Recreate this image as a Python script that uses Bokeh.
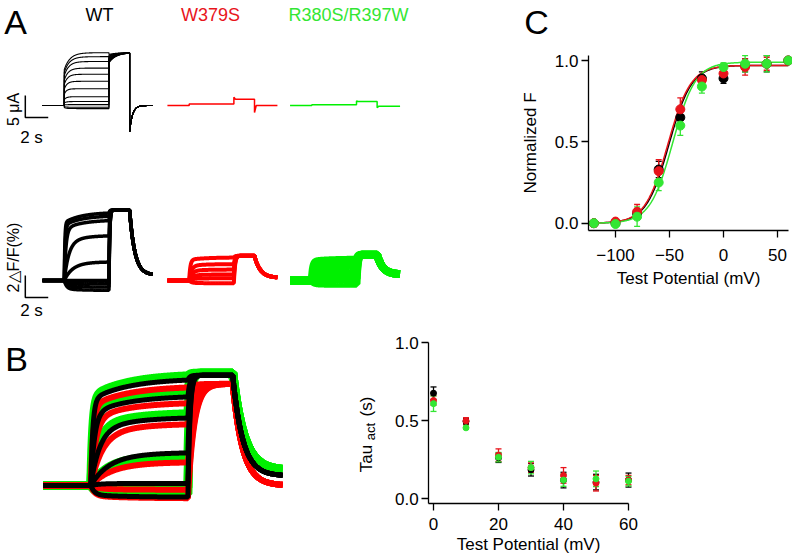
import numpy as np
from bokeh.plotting import figure
from bokeh.models import (Range1d, Label, FixedTicker, Whisker, ColumnDataSource,
                          TeeHead, PrintfTickFormatter, LinearAxis)
from bokeh.core.properties import value
from bokeh.embed import file_html
from bokeh.resources import INLINE

# ======================= DATA =======================
group_names = ["WT", "W379S", "R380S/R397W"]

# Panel C: normalized F-V relation
fv_volt = [-120, -100, -80, -60, -40, -20, 0, 20, 40, 60]
fv_wt = [0.0, 0.0, 0.06, 0.33, 0.65, 0.89, 0.89, 0.97, 0.98, 1.0]
fv_wt_err = [0.01, 0.01, 0.03, 0.05, 0.05, 0.04, 0.03, 0.04, 0.05, 0.0]
fv_w379s = [0.0, 0.01, 0.07, 0.32, 0.70, 0.88, 0.92, 0.96, 0.98, 1.0]
fv_w379s_err = [0.01, 0.01, 0.045, 0.07, 0.07, 0.03, 0.03, 0.05, 0.04, 0.0]
fv_r380s = [0.0, -0.005, 0.04, 0.25, 0.60, 0.84, 0.96, 0.98, 0.98, 1.0]
fv_r380s_err = [0.01, 0.01, 0.06, 0.05, 0.06, 0.04, 0.025, 0.05, 0.05, 0.0]
# Boltzmann fits: (V1/2 mV, slope mV, max)
fit_wt = (-50.5, 10.5, 0.97)
fit_w379s = (-51.5, 10.5, 0.97)
fit_r380s = (-47.0, 10.5, 0.99)

# Panel B (right): activation time constants (s)
tau_volt = [0, 10, 20, 30, 40, 50, 60]
tau_wt = [0.677, 0.496, 0.263, 0.186, 0.12, 0.107, 0.12]
tau_wt_err = [0.04, 0.02, 0.03, 0.04, 0.05, 0.05, 0.045]
tau_w379s = [0.63, 0.50, 0.28, 0.20, 0.15, 0.10, 0.12]
tau_w379s_err = [0.03, 0.02, 0.04, 0.03, 0.05, 0.05, 0.03]
tau_r380s = [0.61, 0.455, 0.267, 0.20, 0.12, 0.128, 0.113]
tau_r380s_err = [0.05, 0.01, 0.03, 0.04, 0.04, 0.05, 0.03]

# Recording protocol (s): end of holding, end of test pulse, end of tail pulse, end of sweep
protocol = [1.9, 5.8, 7.6, 9.6]

# Panel A, currents (uA): WT family (steady level, time constant, tail start)
cur_wt_level = [12.0, 11.1, 10.0, 8.5, 7.1, 5.5, 3.8, 2.0, 0.9, 0.2, -0.4, -0.7]
cur_wt_tau = [0.5, 0.45, 0.4, 0.35, 0.3, 0.25, 0.2, 0.2, 0.2, 0.2, 0.2, 0.2]
cur_wt_tail0 = [11.6, 11.4, 11.2, 11.0, 10.8, 10.6, 10.4, 10.2, 10.0, 9.9, 9.8, 9.7]
cur_wt_tail_end = 12.0
cur_wt_off = -6.0
# mutants (time s, current uA)
cur_mut_t = [0.0, 1.9, 1.9, 5.8, 5.8, 5.95, 7.6, 7.6, 7.75, 9.6]
cur_w379s = [0.0, 0.0, 0.35, 0.35, 1.9, 1.4, 1.4, -1.6, 0.0, 0.0]
cur_r380s = [0.0, 0.0, 0.15, 0.15, 1.0, 0.9, 0.9, -0.5, -0.15, -0.15]

# Panel A, fluorescence (dF/F %)
fl_wt_level = [6.2, 5.9, 5.5, 4.1, 1.7, 0.0, -0.3, -0.6, -0.9]
fl_wt_tau = [0.05, 0.08, 0.15, 0.4, 0.7, 0.3, 0.2, 0.2, 0.2]
fl_wt_tail, fl_wt_post = 6.4, 0.5
fl_w379s_level = [2.1, 1.5, 1.0, 0.55, 0.2, -0.25]
fl_w379s_tau = [0.1, 0.2, 0.25, 0.3, 0.3, 0.2]
fl_w379s_tail, fl_w379s_post = 2.25, 0.25
fl_r380s_level = [1.9, 1.45, 1.0, 0.55, 0.15, -0.3]
fl_r380s_tau = [0.1, 0.2, 0.25, 0.3, 0.3, 0.2]
fl_r380s_tail, fl_r380s_post = 2.35, 0.55

# Panel B (left), normalized fluorescence
nb_wt_level = [1.0, 0.84, 0.64, 0.31, 0.02, -0.11]
nb_wt_tau = [0.08, 0.15, 0.35, 0.7, 0.3, 0.15]
nb_wt_tail, nb_wt_post = 1.03, 0.09
nb_r380s_level = [1.04, 0.88, 0.68, 0.28, -0.02, -0.08]
nb_r380s_tau = [0.08, 0.15, 0.3, 0.65, 0.3, 0.15]
nb_r380s_tail, nb_r380s_post = 1.05, 0.14
nb_w379s_level = [0.93, 0.78, 0.58, 0.22, -0.04, -0.12]
nb_w379s_tau = [0.1, 0.2, 0.45, 0.8, 0.3, 0.15]
nb_w379s_tail, nb_w379s_post = 0.95, 0.0

# scale bars
sb_time, sb_cur, sb_fl = 2.0, 5.0, 2.0

# ======================= STYLE / LAYOUT =======================
W, H = 792, 555
FONT = "Liberation Sans"
BLACK = "#000000"
RED = "#e8141b"
GREEN = "#33e633"
RED_TR = "#ff0000"
GREEN_TR = "#00f000"

p = figure(width=W, height=H, output_backend="svg", toolbar_location=None,
           x_axis_type=None, y_axis_type=None, min_border=0,
           x_range=Range1d(0, W), y_range=Range1d(H, 0))
p.outline_line_color = None
p.background_fill_color = "white"
p.border_fill_color = "white"


def panel(name, ax, bx, ay, by, yonly=False):
    """Register data ranges of one panel (ax, ay: pixel position of 0; bx, by: pixels per unit)."""
    if not yonly:
        p.extra_x_ranges[name + "x"] = Range1d((0 - ax) / bx, (W - ax) / bx)
    p.extra_y_ranges[name + "y"] = Range1d((ay - H) / by, (ay - 0) / by)


def lab(xr, yr, x, y, text, size, color=BLACK, align="center", angle=0.0):
    p.add_layout(Label(x=x, y=y, x_range_name=xr, y_range_name=yr, text=text,
                       text_font=FONT, text_font_size=size, text_color=color,
                       text_align=align, text_baseline="middle", angle=angle))


def sweeps(levels, taus, a_fast, a_slow, slow_tau, tail_target, tail_tau,
           post_target, post_tau, offset=0.0, tail_start=None, post_start=None):
    h, te, tl, en = protocol
    xs, ys = [], []
    for i, (L, tau) in enumerate(zip(levels, taus)):
        t1 = np.linspace(0, te - h, 200)
        y1 = L * (1 - a_fast * np.exp(-t1 / tau) - a_slow * np.exp(-t1 / slow_tau))
        t2 = np.linspace(0, tl - te, 100)
        s2 = y1[-1] if tail_start is None else tail_start[i]
        y2 = tail_target + (s2 - tail_target) * np.exp(-t2 / tail_tau)
        t3 = np.linspace(0, en - tl, 100)
        s3 = y2[-1] if post_start is None else post_start
        y3 = post_target + (s3 - post_target) * np.exp(-t3 / post_tau)
        xs.append(np.concatenate([[0, h], h + t1, te + t2, tl + t3]) + offset)
        ys.append(np.concatenate([[0, 0], y1, y2, y3]))
    return xs, ys


# ---------------- Panel A ----------------
A_ax, A_bx, A_ay, A_by = 42.0, 11.46, 105.0, 4.4
panel("a", A_ax, A_bx, A_ay, A_by)           # time (s) / current (uA)
panel("af", 0, 1, 280.0, 11.0, yonly=True)   # fluorescence (%)
ax_ = lambda ix: (ix - A_ax) / A_bx
ay_ = lambda iy: (A_ay - iy) / A_by
off_w379s, off_r380s = 10.9, 21.6

xs, ys = sweeps(cur_wt_level, cur_wt_tau, 0.32, 0.0, 1.0, cur_wt_tail_end, 0.6,
                0.0, 0.25, 0.0, tail_start=cur_wt_tail0, post_start=cur_wt_off)
p.multi_line(xs, ys, line_color=BLACK, line_width=1.1, x_range_name="ax", y_range_name="ay")
p.line(np.array(cur_mut_t) + off_w379s, cur_w379s, line_color=RED_TR, line_width=1.5,
       x_range_name="ax", y_range_name="ay")
p.line(np.array(cur_mut_t) + off_r380s, cur_r380s, line_color=GREEN_TR, line_width=1.5,
       x_range_name="ax", y_range_name="ay")

xs, ys = sweeps(fl_wt_level, fl_wt_tau, 0.85, 0.15, 1.5, fl_wt_tail, 0.06, fl_wt_post, 0.45)
p.multi_line(xs, ys, line_color=BLACK, line_width=3.5, x_range_name="ax", y_range_name="afy")
xs, ys = sweeps(fl_w379s_level, fl_w379s_tau, 0.9, 0.1, 1.5, fl_w379s_tail, 0.1,
                fl_w379s_post, 0.5, off_w379s)
p.multi_line(xs, ys, line_color=RED_TR, line_width=4, x_range_name="ax", y_range_name="afy")
xs, ys = sweeps(fl_r380s_level, fl_r380s_tau, 0.9, 0.1, 1.5, fl_r380s_tail, 0.1,
                fl_r380s_post, 0.5, off_r380s)
p.multi_line(xs, ys, line_color=GREEN_TR, line_width=8, x_range_name="ax", y_range_name="afy")

# scale bars
t_sb, i_sb, f_sb = -1.5, -2.7, -1.55
p.line([t_sb, t_sb, t_sb + sb_time], [i_sb + sb_cur, i_sb, i_sb], line_color=BLACK,
       line_width=1.5, x_range_name="ax", y_range_name="ay")
p.line([t_sb, t_sb, t_sb + sb_time], [f_sb + sb_fl, f_sb, f_sb], line_color=BLACK,
       line_width=1.5, x_range_name="ax", y_range_name="afy")

lab("ax", "ay", ax_(15), ay_(21), "A", "34px")
lab("ax", "ay", ax_(99), ay_(14), group_names[0], "18px", BLACK)
lab("ax", "ay", ax_(210), ay_(14), group_names[1], "18px", RED)
lab("ax", "ay", ax_(348), ay_(14), group_names[2], "18px", GREEN)
lab("ax", "ay", ax_(13), ay_(109), "5 μA", "16px", angle=np.pi / 2)
lab("ax", "ay", ax_(31), ay_(137), "2 s", "17px")
lab("ax", "ay", ax_(13), ay_(257), "2△F/F(%)", "16px", angle=np.pi / 2)
lab("ax", "ay", ax_(31), ay_(310), "2 s", "17px")

# ---------------- Panel B (left) ----------------
B_ax, B_bx, B_ay, B_by = 43.0, 24.9, 485.0, 107.0
panel("b", B_ax, B_bx, B_ay, B_by)
xs, ys = sweeps(nb_r380s_level, nb_r380s_tau, 0.8, 0.2, 1.5, nb_r380s_tail, 0.08, nb_r380s_post, 0.45)
p.multi_line(xs, ys, line_color=GREEN_TR, line_width=9, x_range_name="bx", y_range_name="by")
xs, ys = sweeps(nb_w379s_level, nb_w379s_tau, 0.8, 0.2, 1.5, nb_w379s_tail, 0.25, nb_w379s_post, 0.4)
p.multi_line(xs, ys, line_color=RED_TR, line_width=6, x_range_name="bx", y_range_name="by")
xs, ys = sweeps(nb_wt_level, nb_wt_tau, 0.8, 0.2, 1.5, nb_wt_tail, 0.08, nb_wt_post, 0.4)
p.multi_line(xs, ys, line_color=BLACK, line_width=5, x_range_name="bx", y_range_name="by")
lab("bx", "by", (16 - B_ax) / B_bx, (B_ay - 358) / B_by, "B", "34px")


# ---------------- axes helpers ----------------
def style_axis(a, tick_std, lab_std):
    a.axis_line_width = 1.3
    a.major_tick_line_width = 1.3
    a.major_tick_out = 7
    a.major_tick_in = 0
    a.minor_tick_out = 0
    a.minor_tick_in = 0
    a.major_label_text_font = FONT
    a.major_label_text_font_size = "17px"
    a.major_label_text_color = BLACK
    a.axis_label_text_font = FONT
    a.axis_label_text_font_size = "17px"
    a.axis_label_text_font_style = "normal"
    a.axis_label_text_color = BLACK
    a.major_label_standoff = tick_std
    a.axis_label_standoff = lab_std


def add_axes(name, xb, yb, xticks, xlabel, ylabel, xstd, xlstd, ystd, ylstd):
    xa = LinearAxis(x_range_name=name + "x", y_range_name=name + "y", fixed_location=yb[0],
                    bounds=xb, ticker=FixedTicker(ticks=xticks, minor_ticks=[]))
    if xlabel:
        xa.axis_label = xlabel
    style_axis(xa, xstd, xlstd)
    p.add_layout(xa, "below")
    ya = LinearAxis(x_range_name=name + "x", y_range_name=name + "y", fixed_location=xb[0],
                    bounds=yb, ticker=FixedTicker(ticks=[0.0, 0.5, 1.0], minor_ticks=[]),
                    formatter=PrintfTickFormatter(format="%.1f"))
    if ylabel:
        ya.axis_label = ylabel
    style_axis(ya, ystd, ylstd)
    p.add_layout(ya, "left")


def add_series(name, x, y, err, color, size):
    src = ColumnDataSource(dict(x=x, y=y, lo=np.array(y) - np.array(err),
                                hi=np.array(y) + np.array(err)))
    p.add_layout(Whisker(base="x", upper="hi", lower="lo", source=src,
                         x_range_name=name + "x", y_range_name=name + "y",
                         line_color=color, line_width=1.3,
                         upper_head=TeeHead(size=6, line_color=color, line_width=1.3),
                         lower_head=TeeHead(size=6, line_color=color, line_width=1.3)))
    p.scatter("x", "y", source=src, size=size, marker="circle", fill_color=color,
              line_color=color, x_range_name=name + "x", y_range_name=name + "y")


# ---------------- Panel C ----------------
C_ax, C_bx, C_ay, C_by = 723.0, 1.08, 222.7, 162.7
panel("c", C_ax, C_bx, C_ay, C_by)
add_axes("c", (-125, 60), (-0.045, 1.03), [-100, -50, 0, 50],
         "Test Potential (mV)", "Normalized F", 11, 5, 3, 12)
vv = np.linspace(-125, 60, 300)
for (vh, k, fmax), col in ((fit_wt, BLACK), (fit_w379s, RED), (fit_r380s, GREEN)):
    p.line(vv, fmax / (1 + np.exp((vh - vv) / k)), line_color=col, line_width=1.5,
           x_range_name="cx", y_range_name="cy")
add_series("c", fv_volt, fv_wt, fv_wt_err, BLACK, 9)
add_series("c", fv_volt, fv_w379s, fv_w379s_err, RED, 9)
add_series("c", fv_volt, fv_r380s, fv_r380s_err, GREEN, 9)
lab("cx", "cy", (536 - C_ax) / C_bx, (C_ay - 21) / C_by, "C", "34px")

# ---------------- Panel B (right) ----------------
T_ax, T_bx, T_ay, T_by = 433.0, 3.25, 498.3, 156.0
panel("t", T_ax, T_bx, T_ay, T_by)
add_axes("t", (-1.5, 60), (-0.03, 1.0), [0, 20, 40, 60],
         "Test Potential (mV)", None, 8, 1, 3, 10)
add_series("t", tau_volt, tau_wt, tau_wt_err, BLACK, 6)
add_series("t", tau_volt, tau_w379s, tau_w379s_err, RED, 6)
add_series("t", tau_volt, tau_r380s, tau_r380s_err, GREEN, 6)
tx = lambda ix: (ix - T_ax) / T_bx
ty = lambda iy: (T_ay - iy) / T_by
# y-axis title "Tau_act (s)" (rotated, with subscript)
p.text(x=[tx(366), tx(366)], y=[ty(458), ty(406)], text=["Tau", "(s)"], angle=np.pi / 2,
       text_align="center", text_baseline="middle", text_font=value(FONT),
       text_font_size=value("17px"), text_color=BLACK, x_range_name="tx", y_range_name="ty")
p.text(x=[tx(370)], y=[ty(431)], text=["act"], angle=np.pi / 2,
       text_align="center", text_baseline="middle", text_font=value(FONT),
       text_font_size=value("13px"), text_color=BLACK, x_range_name="tx", y_range_name="ty")

open("out.html", "w").write(file_html(p, INLINE))
